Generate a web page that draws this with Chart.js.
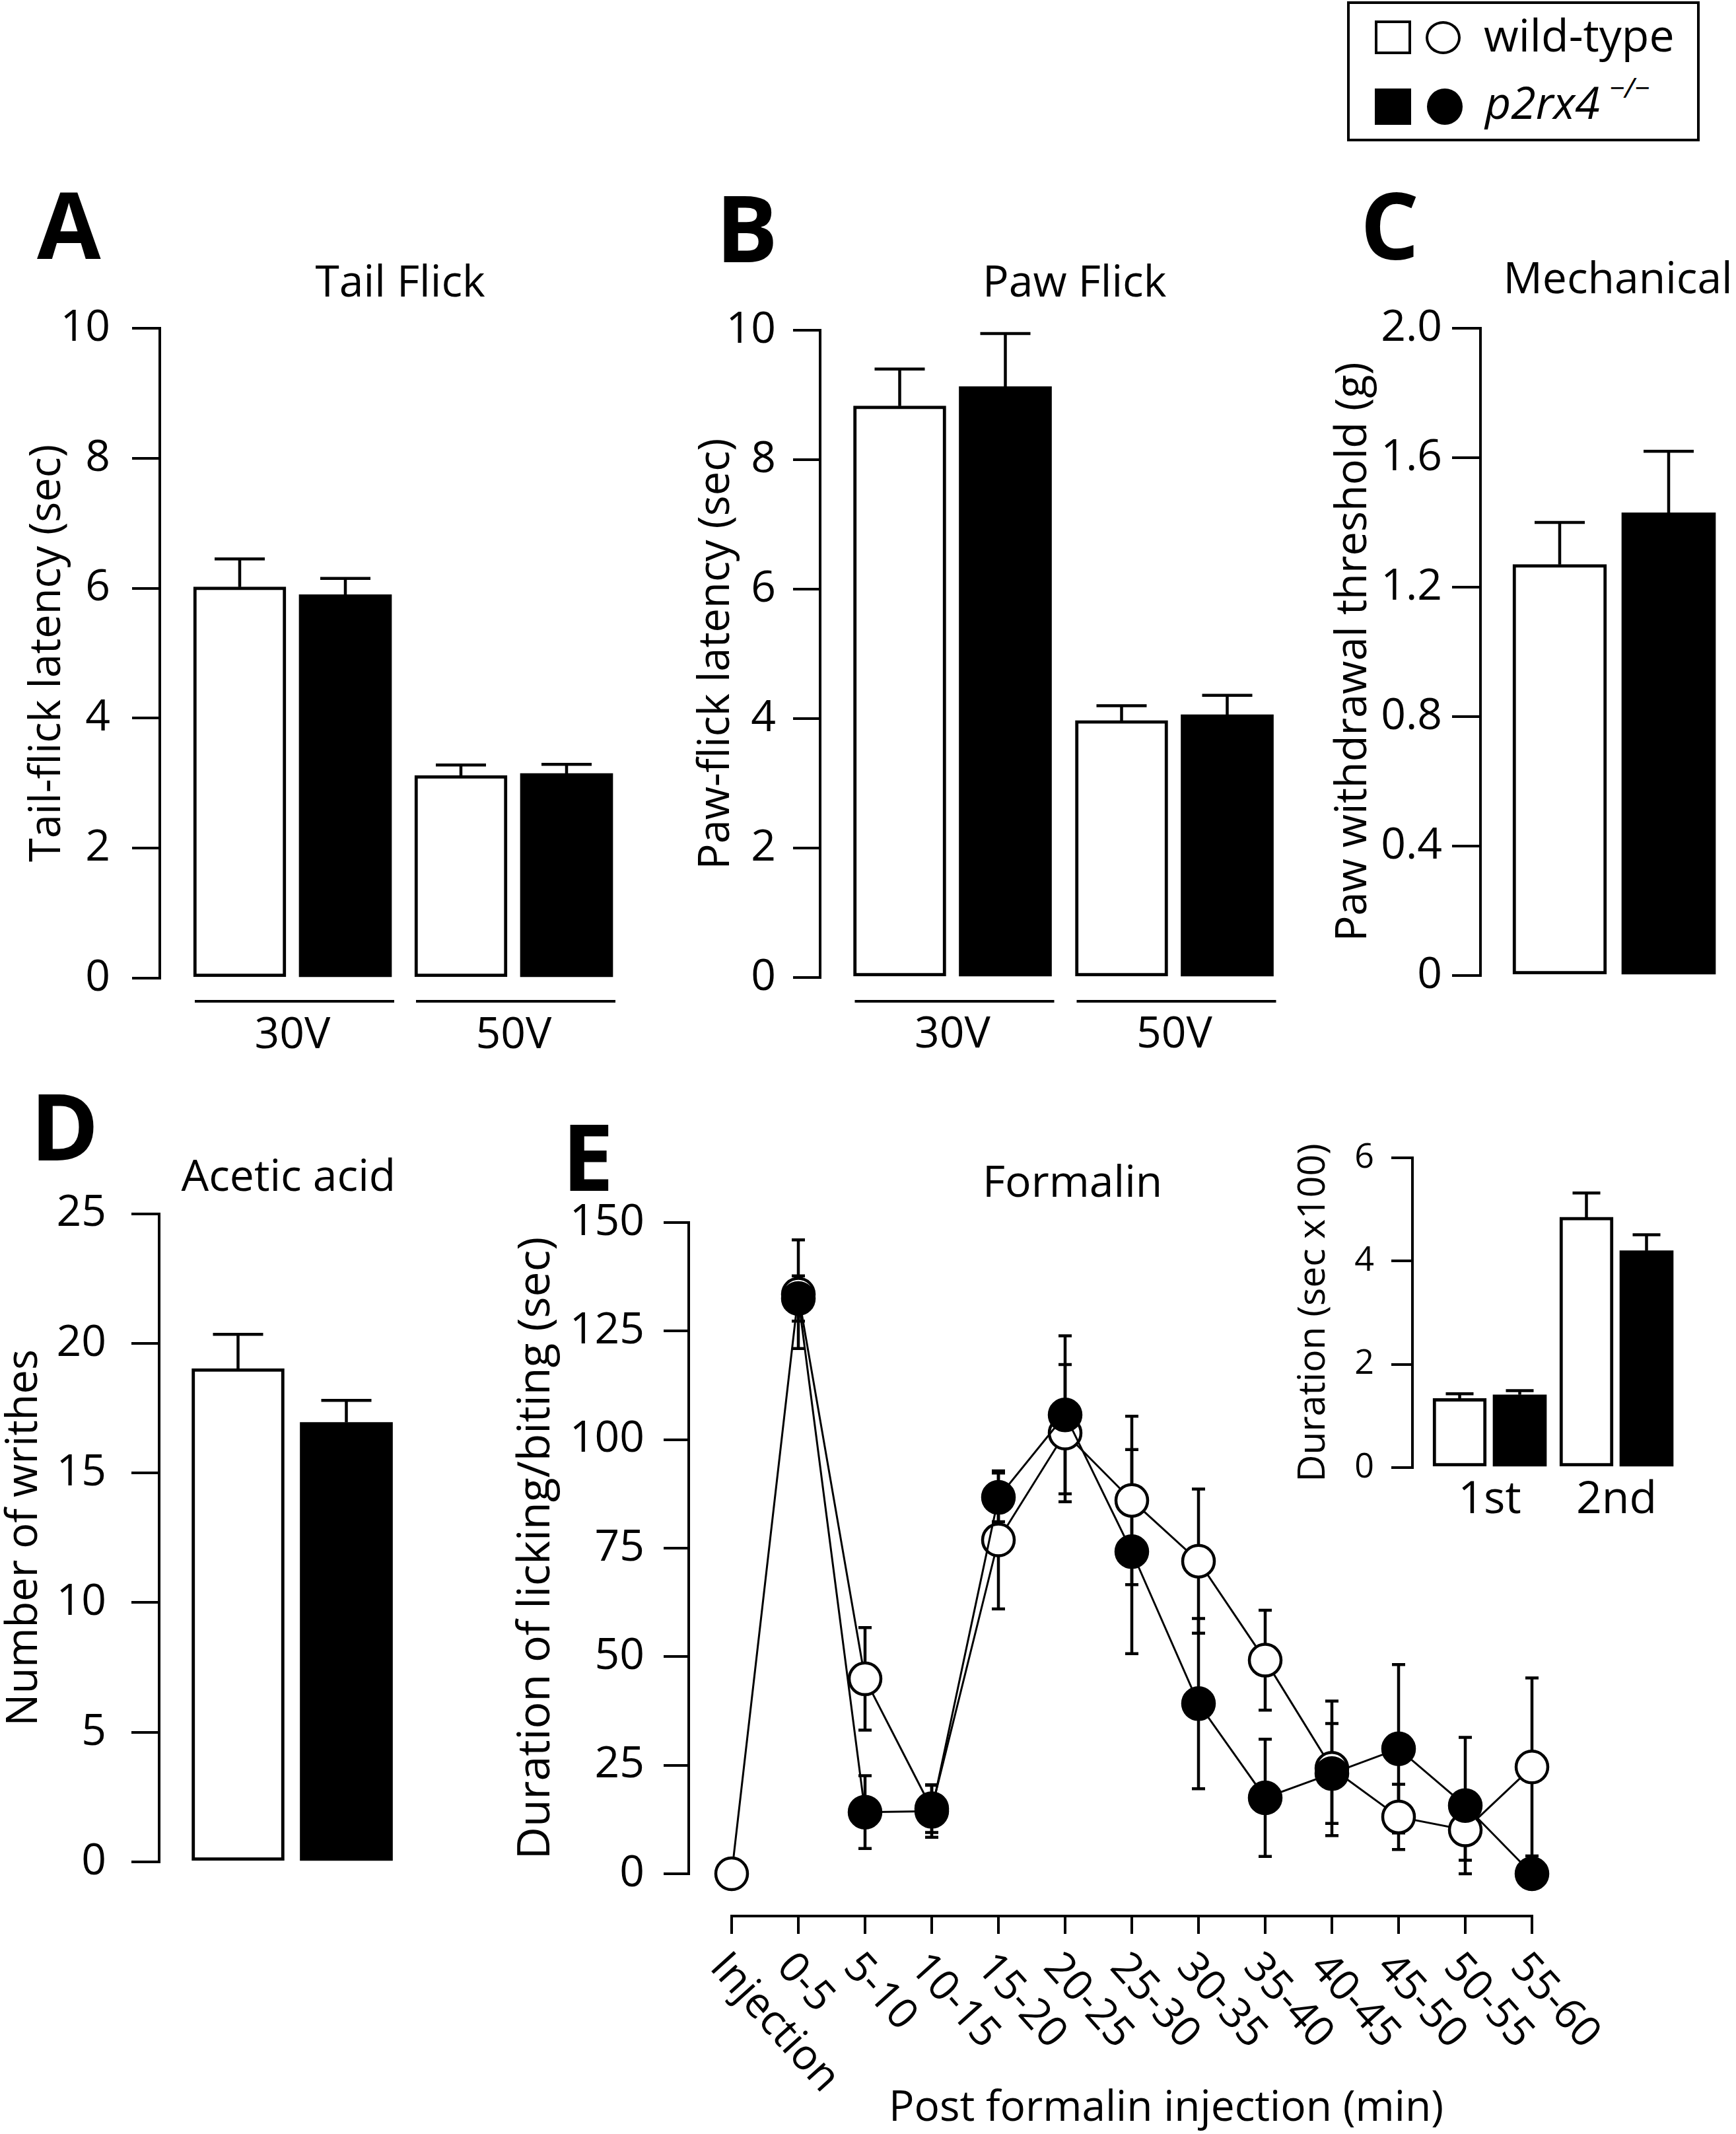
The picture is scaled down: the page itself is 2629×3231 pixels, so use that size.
<!DOCTYPE html>
<html><head><meta charset="utf-8">
<script src="https://cdn.jsdelivr.net/npm/chart.js@4.4.1/dist/chart.umd.min.js"></script>
<style>
html,body{margin:0;padding:0;background:#fff;}
#fig{position:relative;width:2629px;height:3231px;overflow:hidden;background:#fff;}
#fig canvas{position:absolute;}
.t{position:absolute;left:0;top:0;white-space:nowrap;line-height:1;color:#000;font-family:"Open Sans","Noto Sans",sans-serif;}
.box{position:absolute;box-sizing:border-box;}
</style></head><body><div id="fig"></div>
<script>
// ---------------- DATA ----------------
const barGroups = ['30V', '50V'];
const yTicksFlick = [0, 2, 4, 6, 8, 10];

const tailFlickWT = [6.02, 3.12];
const tailFlickWTErr = [0.43, 0.16];
const tailFlickKO = [5.90, 3.15];
const tailFlickKOErr = [0.25, 0.14];

const pawFlickWT = [8.83, 3.97];
const pawFlickWTErr = [0.57, 0.23];
const pawFlickKO = [9.13, 4.06];
const pawFlickKOErr = [0.82, 0.30];

const yTicksMech = [0, 0.4, 0.8, 1.2, 1.6, 2.0];
const mechWT = [1.27];
const mechWTErr = [0.13];
const mechKO = [1.43];
const mechKOErr = [0.19];

const yTicksAcetic = [0, 5, 10, 15, 20, 25];
const aceticWT = [19.03];
const aceticWTErr = [1.32];
const aceticKO = [16.95];
const aceticKOErr = [0.85];

const formalinBins = ['Injection', '0-5', '5-10', '10-15', '15-20', '20-25', '25-30', '30-35', '35-40', '40-45', '45-50', '50-55', '55-60'];
const yTicksFormalin = [0, 25, 50, 75, 100, 125, 150];
const formalinWT    = [0, 133.5, 44.9, 15.0, 76.9, 101.5, 86.0, 72.0, 49.2, 24.3, 13.1, 10.1, 24.6];
const formalinWTErr = [0, 12.5, 11.8, 5.5, 15.9, 15.8, 19.4, 16.6, 11.5, 15.5, 7.5, 7.0, 20.5];
const formalinKO    = [null, 132.5, 14.2, 14.4, 86.7, 105.7, 74.2, 39.2, 17.5, 23.1, 28.8, 15.7, 0];
const formalinKOErr = [0, 5.2, 8.4, 6.0, 5.6, 18.2, 23.5, 19.6, 13.5, 11.5, 19.4, 15.7, 0];

const phases = ['1st', '2nd'];
const yTicksPhase = [0, 2, 4, 6];
const phaseWT = [1.34, 4.85];
const phaseWTErr = [0.09, 0.47];
const phaseKO = [1.41, 4.20];
const phaseKOErr = [0.08, 0.31];

// ---------------- HELPERS ----------------
const FONT = '"Open Sans", "Noto Sans", sans-serif';
const fig = document.getElementById('fig');

function makeCanvas(l, t, r, b) {
  const c = document.createElement('canvas');
  c.width = r - l; c.height = b - t;
  c.style.left = l + 'px'; c.style.top = t + 'px';
  c.style.width = (r - l) + 'px'; c.style.height = (b - t) + 'px';
  fig.appendChild(c);
  return c;
}

function txt(html, x, baseline, size, o) {
  o = o || {};
  const d = document.createElement('div');
  d.className = 't';
  d.style.fontSize = size + 'px';
  if (o.weight) d.style.fontWeight = o.weight;
  if (o.italic) d.style.fontStyle = 'italic';
  d.innerHTML = html + '<span style="display:inline-block;width:0;height:0;vertical-align:baseline"></span>';
  fig.appendChild(d);
  const m = d.lastChild;
  const bo = m.offsetTop;
  const w = d.offsetWidth;
  d.style.left = (o.align === 'center' ? x - w / 2 : x) + 'px';
  d.style.top = (baseline - bo) + 'px';
  return d;
}

function box(l, t, w, h, css) {
  const d = document.createElement('div');
  d.className = 'box';
  d.style.left = l + 'px'; d.style.top = t + 'px';
  d.style.width = w + 'px'; d.style.height = h + 'px';
  d.style.cssText += css;
  fig.appendChild(d);
  return d;
}

// error bars (bars: upward only; points: symmetric)
const errPlugin = {
  id: 'errBars',
  beforeDatasetsDraw(chart, args, o) { if (o.sym) drawErr(chart, o); },
  afterDatasetsDraw(chart, args, o) { if (!o.sym) drawErr(chart, o); }
};
function drawErr(chart, o) {
  const ctx = chart.ctx, ys = chart.scales.y;
  chart.data.datasets.forEach((ds, di) => {
    if (!ds.errors) return;
    const meta = chart.getDatasetMeta(di);
    meta.data.forEach((el, i) => {
      const v = ds.data[i].y, e = ds.errors[i];
      if (v === null || v === undefined || !e) return;
      const yT = ys.getPixelForValue(v + e);
      const yB = o.sym ? ys.getPixelForValue(Math.max(0, v - e)) : ys.getPixelForValue(v);
      ctx.save();
      ctx.strokeStyle = '#000'; ctx.lineWidth = o.lw; ctx.lineCap = 'butt';
      ctx.beginPath();
      ctx.moveTo(el.x, yB); ctx.lineTo(el.x, yT);
      ctx.moveTo(el.x - o.cap, yT); ctx.lineTo(el.x + o.cap, yT);
      if (o.sym) { ctx.moveTo(el.x - o.cap, yB); ctx.lineTo(el.x + o.cap, yB); }
      ctx.stroke();
      ctx.restore();
    });
  });
}

// group underline for bar categories
const groupPlugin = {
  id: 'groupLines',
  afterDatasetsDraw(chart, args, o) {
    if (!o || !o.n) return;
    const ctx = chart.ctx;
    const metas = chart.data.datasets.map((d, i) => chart.getDatasetMeta(i));
    ctx.save(); ctx.strokeStyle = '#000'; ctx.lineWidth = o.lw;
    for (let i = 0; i < o.n; i++) {
      let l = Infinity, r = -Infinity;
      metas.forEach(m => { const el = m.data[i]; l = Math.min(l, el.x - el.width / 2); r = Math.max(r, el.x + el.width / 2); });
      ctx.beginPath(); ctx.moveTo(l + 2, o.y); ctx.lineTo(r + o.ext, o.y); ctx.stroke();
    }
    ctx.restore();
  }
};

// offset x axis with rotated labels (panel E)
const xAxisPlugin = {
  id: 'xAxisE',
  afterDraw(chart, args, o) {
    if (!o || !o.labels) return;
    const ctx = chart.ctx, xs = chart.scales.x;
    const n = o.labels.length;
    const x0 = xs.getPixelForValue(0), x1 = xs.getPixelForValue(n - 1);
    ctx.save();
    ctx.strokeStyle = '#000'; ctx.lineWidth = o.lw;
    ctx.beginPath();
    ctx.moveTo(x0 - o.lw / 2, o.y); ctx.lineTo(x1 + o.lw / 2, o.y);
    for (let i = 0; i < n; i++) { const x = xs.getPixelForValue(i); ctx.moveTo(x, o.y); ctx.lineTo(x, o.y + o.tick); }
    ctx.stroke();
    ctx.fillStyle = '#000';
    ctx.font = o.size + 'px ' + FONT;
    ctx.textAlign = 'left'; ctx.textBaseline = 'alphabetic';
    for (let i = 0; i < n; i++) {
      const x = xs.getPixelForValue(i);
      ctx.save(); ctx.translate(x + o.dx, o.ly); ctx.rotate(o.rot * Math.PI / 180);
      ctx.fillText(o.labels[i], 0, 0); ctx.restore();
    }
    ctx.restore();
  }
};

function yScale(g) {
  return {
    min: 0, max: g.ymax, bounds: 'data',
    afterBuildTicks: s => { s.ticks = g.yTicks.map(v => ({ value: v })); },
    afterFit: s => { s.width = g.L - g.cl; },
    ticks: { padding: (g.L - g.tl) - g.tickRight, color: '#000', font: { family: FONT, size: g.tfs }, callback: g.fmt || (v => String(v)) },
    grid: { display: true, drawOnChartArea: false, drawTicks: true, tickLength: g.tl, tickWidth: g.alw, tickColor: '#000', color: '#000', lineWidth: g.alw },
    border: { display: true, color: '#000', width: g.alw },
    title: { display: true, text: g.ylabel, color: '#000', font: { family: FONT, size: g.yfs, lineHeight: 1 }, padding: { top: g.yTitleX - g.cl - g.yfs / 2, bottom: 0 } }
  };
}

function barPanel(g) {
  const cv = makeCanvas(g.cl, g.ct, g.cr, g.cb);
  const min = -(g.x0 - g.L) / g.unit;
  const max = min + (g.R - g.L) / g.unit;
  const xH = g.cats ? (g.cb - g.B) : 0;
  const off = g.d / g.unit;
  const mk = (vals, s) => vals.map((v, i) => ({ x: i + s * off, y: v }));
  const ds = (lbl, vals, errs, s, fill) => ({
    label: lbl, data: mk(vals, s), errors: errs, backgroundColor: fill, borderColor: '#000',
    borderWidth: fill === '#fff' ? g.bw : 0, borderSkipped: false, grouped: false, barThickness: g.thick
  });
  return new Chart(cv, {
    type: 'bar',
    data: { datasets: [ds('wild-type', g.wt, g.wtErr, -1, '#fff'), ds('p2rx4 -/-', g.ko, g.koErr, 1, '#000')] },
    options: {
      responsive: false, animation: false, devicePixelRatio: 1,
      layout: { padding: { left: 0, top: g.T - g.ct, right: g.cr - g.R, bottom: g.cb - g.B - xH } },
      plugins: {
        legend: { display: false }, tooltip: { enabled: false },
        errBars: { lw: g.elw, cap: g.cap, sym: false },
        groupLines: g.lineY ? { y: g.lineY - g.ct, lw: 4, n: g.cats.length, ext: 4 } : { n: 0 }
      },
      scales: {
        x: {
          type: 'linear', min: min, max: max, bounds: 'data', offset: false, display: !!g.cats,
          afterBuildTicks: s => { s.ticks = (g.cats || ['a']).map((c, i) => ({ value: i })); },
          afterFit: s => { s.height = xH; },
          grid: { display: false, drawTicks: false, offset: false }, border: { display: false },
          ticks: { autoSkip: false, maxRotation: 0, minRotation: 0, padding: g.xPad || 0, color: '#000',
                   font: { family: FONT, size: g.xFs || 60 }, callback: v => (g.cats ? g.cats[v] : '') }
        },
        y: yScale(g)
      }
    },
    plugins: [errPlugin, groupPlugin]
  });
}

// ---------------- PANELS ----------------
const common = { alw: 4, bw: 5, elw: 4.5, cap: 38, tfs: 66, yfs: 65 };

barPanel(Object.assign({}, common, {
  cl: 0, ct: 400, cr: 1000, cb: 1650, L: 242, T: 497, R: 945, B: 1481,
  x0: 443, unit: 335, d: 80, thick: 140, tl: 42, tickRight: 167, yTitleX: 72,
  ymax: 10, yTicks: yTicksFlick, ylabel: 'Tail-flick latency (sec)',
  cats: barGroups, xPad: 48, xFs: 66, lineY: 1516,
  wt: tailFlickWT, wtErr: tailFlickWTErr, ko: tailFlickKO, koErr: tailFlickKOErr
}));

barPanel(Object.assign({}, common, {
  cl: 1000, ct: 400, cr: 2000, cb: 1650, L: 1242, T: 500, R: 1946, B: 1480,
  x0: 1442.5, unit: 336, d: 80, thick: 140, tl: 41, tickRight: 1175, yTitleX: 1085,
  ymax: 10, yTicks: yTicksFlick, ylabel: 'Paw-flick latency (sec)',
  cats: barGroups, xPad: 48, xFs: 66, lineY: 1516,
  wt: pawFlickWT, wtErr: pawFlickWTErr, ko: pawFlickKO, koErr: pawFlickKOErr
}));

barPanel(Object.assign({}, common, {
  cl: 1950, ct: 400, cr: 2629, cb: 1650, L: 2242, T: 497, R: 2624, B: 1477,
  x0: 2444.5, unit: 335, d: 82.5, thick: 142, tl: 43, tickRight: 2184, yTitleX: 2050,
  ymax: 2, yTicks: yTicksMech, ylabel: 'Paw withdrawal threshold (g)',
  fmt: v => (v === 0 ? '0' : v.toFixed(1)),
  wt: mechWT, wtErr: mechWTErr, ko: mechKO, koErr: mechKOErr
}));

barPanel(Object.assign({}, common, {
  cl: 0, ct: 1760, cr: 700, cb: 2900, L: 241, T: 1834, R: 650, B: 2819,
  x0: 442.5, unit: 335, d: 82, thick: 140, tl: 42, tickRight: 161, yTitleX: 37,
  ymax: 25, yTicks: yTicksAcetic, ylabel: 'Number of writhes',
  wt: aceticWT, wtErr: aceticWTErr, ko: aceticKO, koErr: aceticKOErr
}));

// Panel E main line chart
(function () {
  const g = { cl: 760, ct: 1760, cr: 2500, cb: 3231, L: 1043, T: 1851, B: 2837, x0: 1108, unit: 101, R: 2360,
              tl: 38, tickRight: 976, yTitleX: 813, ymax: 150, yTicks: yTicksFormalin,
              ylabel: 'Duration of licking/biting (sec)', alw: 4, tfs: 66, yfs: 68 };
  const cv = makeCanvas(g.cl, g.ct, g.cr, g.cb);
  const min = -(g.x0 - g.L) / g.unit;
  const max = min + (g.R - g.L) / g.unit;
  const mk = vals => vals.map((v, i) => ({ x: i, y: v }));
  const line = (lbl, vals, errs, fill) => ({
    label: lbl, data: mk(vals), errors: errs, borderColor: '#000', borderWidth: 3,
    pointBackgroundColor: fill, pointBorderColor: '#000', pointBorderWidth: 4.5, pointRadius: 24,
    pointHoverRadius: 24, tension: 0, fill: false, clip: false, spanGaps: false
  });
  new Chart(cv, {
    type: 'line',
    data: { datasets: [line('p2rx4 -/-', formalinKO, formalinKOErr, '#000'), line('wild-type', formalinWT, formalinWTErr, '#fff')] },
    options: {
      responsive: false, animation: false, devicePixelRatio: 1,
      layout: { padding: { left: 0, top: g.T - g.ct, right: g.cr - g.R, bottom: g.cb - g.B } },
      plugins: {
        legend: { display: false }, tooltip: { enabled: false },
        errBars: { lw: 4.5, cap: 10, sym: true },
        xAxisE: { labels: formalinBins, y: 2901 - g.ct, tick: 27, lw: 4, size: 64, rot: 48, dx: -35, ly: 2980 - g.ct }
      },
      scales: {
        x: { type: 'linear', min: min, max: max, bounds: 'data', display: false },
        y: yScale(g)
      }
    },
    plugins: [errPlugin, xAxisPlugin]
  });
})();

// Panel E inset
barPanel({
  alw: 4, bw: 5, elw: 4.5, cap: 21, tfs: 52, yfs: 57,
  cl: 1940, ct: 1680, cr: 2629, cb: 2330, L: 2139, T: 1753, R: 2550, B: 2222,
  x0: 2256, unit: 192, d: 45.5, thick: 81, tl: 32, tickRight: 2081, yTitleX: 1990,
  ymax: 6, yTicks: yTicksPhase, ylabel: 'Duration (sec x100)',
  cats: phases, xPad: 9, xFs: 68,
  wt: phaseWT, wtErr: phaseWTErr, ko: phaseKO, koErr: phaseKOErr
});

// ---------------- TEXT: panel letters & titles ----------------
txt('A', 56, 392, 140, { weight: 700 });
txt('B', 1084, 397, 140, { weight: 700 });
txt('C', 2060, 393, 140, { weight: 700 });
txt('D', 46, 1757, 140, { weight: 700 });
txt('E', 851, 1803, 140, { weight: 700 });

txt('Tail Flick', 606, 449, 66, { align: 'center' });
txt('Paw Flick', 1627, 449, 66, { align: 'center' });
txt('Mechanical', 2450, 444, 66, { align: 'center' });
txt('Acetic acid', 437, 1803, 66, { align: 'center' });
txt('Formalin', 1624, 1812, 66, { align: 'center' });
txt('Post formalin injection (min)', 1766, 3211, 64, { align: 'center' });

// ---------------- LEGEND ----------------
box(2040, 2, 534, 212, 'border:4px solid #000;background:#fff;');
box(2082, 31, 55, 51, 'border:4px solid #000;background:#fff;');
box(2159, 32, 53, 50, 'border:4px solid #000;border-radius:50%;background:#fff;');
box(2082, 134, 55, 55, 'background:#000;');
box(2161, 134, 54, 55, 'background:#000;border-radius:50%;');
txt('wild-type', 2247, 78, 68);
txt('p2rx4', 2249, 180, 68, { italic: true });
txt('\u2212/\u2212', 2437, 148, 42, { italic: true });
</script>
</body></html>
